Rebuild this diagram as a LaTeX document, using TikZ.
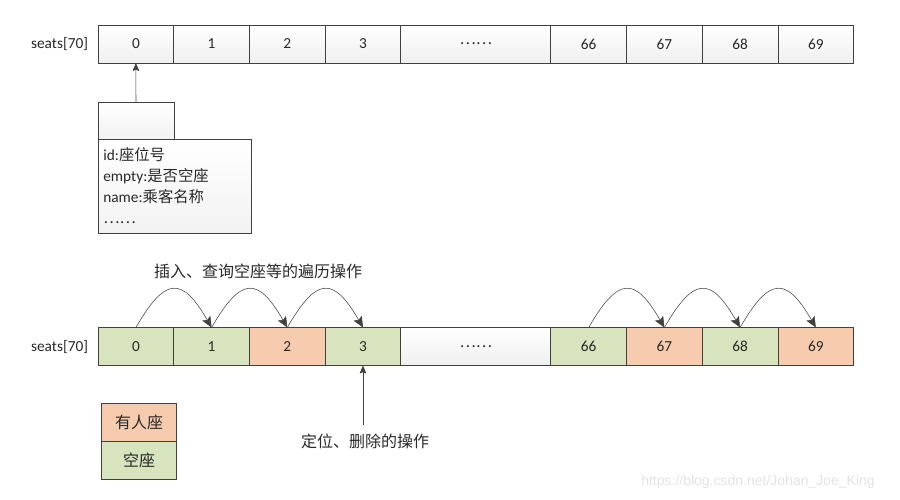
\documentclass[tikz,border=0pt]{standalone}
\usepackage{fontspec}
\setmainfont{Carlito}
\newfontfamily\cjk{Noto Sans CJK SC}
\newfontfamily\wmfont{Liberation Sans}
\usetikzlibrary{positioning,arrows.meta}
\definecolor{seatgreen}{RGB}{216,228,190}
\definecolor{seatorange}{RGB}{247,204,174}
\definecolor{linegray}{RGB}{64,64,64}
\definecolor{textgray}{RGB}{40,40,40}
\tikzset{
  cell-node/.style={draw=linegray, semithick, minimum width=56.8pt, minimum height=28.5pt,
    inner sep=0pt, outer sep=0pt, font=\fontsize{11.5}{14}\selectfont, text=textgray},
  plain-cell/.style={cell-node, top color=white, bottom color=gray!12},
  wide-cell/.style={minimum width=112.5pt},
  struct-box/.style={draw=linegray, semithick, top color=white, bottom color=gray!10,
    inner sep=0pt, outer sep=0pt},
  cjk-label/.style={font=\cjk\fontsize{12}{14}\selectfont, text=textgray},
  hop-arrow/.style={-{Stealth[length=8pt, width=7pt, inset=1.5pt]}, draw=linegray, thin},
  point-arrow/.style={-{Stealth[length=6pt, width=5pt, inset=1pt]}, draw=linegray, thin}
}

\begin{document}
\begin{tikzpicture}[x=0.75pt, y=-0.75pt]
\useasboundingbox (0,0) rectangle (900,500);

% Top array
\foreach \x/\lbl/\nm in {135.9/0/t0, 211.6/1/t1, 287.3/2/t2, 363.0/3/t3,
  588.7/66/t66, 664.4/67/t67, 740.1/68/t68, 815.8/69/t69}
{
  \node[plain-cell] (\nm) at (\x, 44) {\lbl};
}
\node[plain-cell, wide-cell] (tdots) at (475.8, 44) {{\cjk ……}};
\node[font=\fontsize{11.5}{14}\selectfont, text=textgray, left=4pt of t0] (top-name) {seats[70]};

% Seat structure
\node[struct-box, minimum width=57pt, minimum height=27.75pt] (struct-head) at (136, 120.5) {};
\node[struct-box, minimum width=114pt, minimum height=70.5pt, align=left, text width=107pt,
  inner xsep=4pt, anchor=north west, font=\fontsize{11.5}{15.8}\selectfont, text=textgray]
  (struct-body) at (struct-head.south west)
  {id:{\cjk 座位号}\\
   empty:{\cjk 是否空座}\\
   name:{\cjk 乘客名称}\\
   {\cjk ……}};
\draw[point-arrow] (struct-head.north) -- (t0.south);

% Bottom array
\foreach \x/\lbl/\nm/\clr in {135.9/0/b0/seatgreen, 211.6/1/b1/seatgreen, 287.3/2/b2/seatorange,
  363.0/3/b3/seatgreen, 588.7/66/b66/seatgreen, 664.4/67/b67/seatorange,
  740.1/68/b68/seatgreen, 815.8/69/b69/seatorange}
{
  \node[cell-node, fill=\clr] (\nm) at (\x, 346.5) {\lbl};
}
\node[plain-cell, wide-cell] (bdots) at (475.8, 346.5) {{\cjk ……}};
\node[font=\fontsize{11.5}{14}\selectfont, text=textgray, left=4pt of b0] (bottom-name) {seats[70]};

% Traversal hops
\foreach \a/\b in {b0/b1, b1/b2, b2/b3, b66/b67, b67/b68, b68/b69}
{
  \draw[hop-arrow] (\a.north) to[out=60, in=120, looseness=2] (\b.north);
}
\node[cjk-label] (walk-label) at (258, 271) {插入、查询空座等的遍历操作};

% Locate / delete
\node[cjk-label] (del-label) at (365, 441) {定位、删除的操作};
\draw[point-arrow] ([yshift=3pt]del-label.north -| b3) -- (b3.south);

% Legend
\node[cell-node, fill=seatorange, font=\cjk\fontsize{12}{14}\selectfont] (key-taken) at (139, 422) {有人座};
\node[cell-node, fill=seatgreen, font=\cjk\fontsize{12}{14}\selectfont, below=0pt of key-taken] (key-free) {空座};

% Watermark
\node[font=\wmfont\fontsize{10.5}{12}\selectfont, text=gray!22] (mark) at (758, 482) {https://blog.csdn.net/Johan\_Joe\_King};
\end{tikzpicture}
\end{document}
